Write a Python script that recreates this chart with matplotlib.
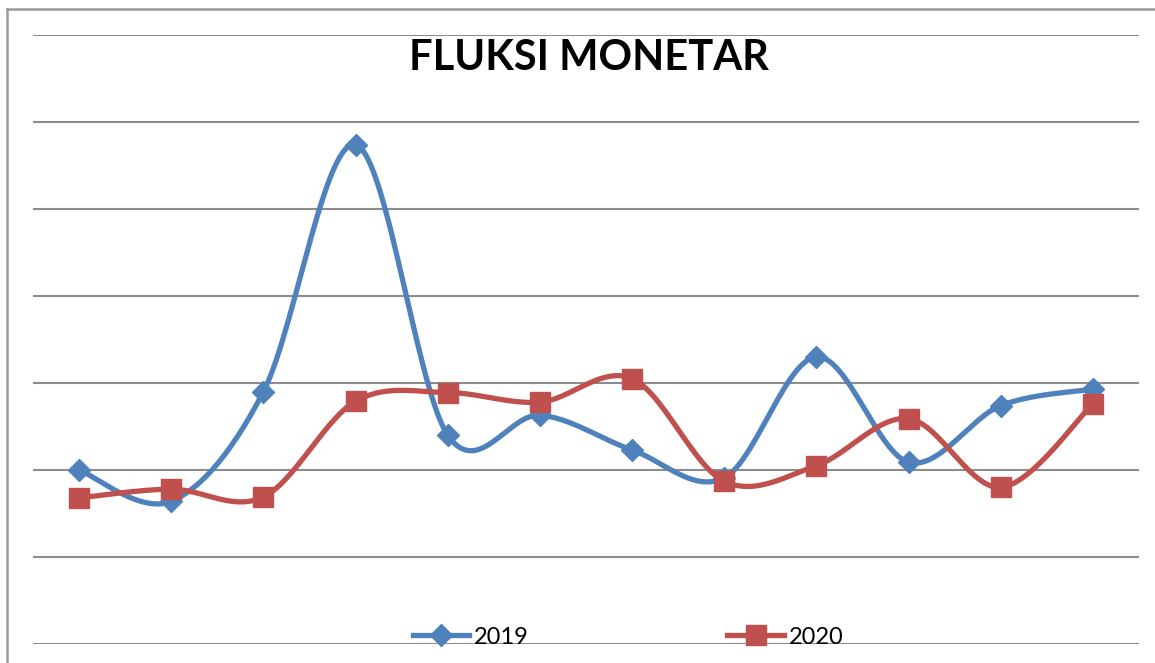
import numpy as np
import matplotlib.pyplot as plt
from matplotlib.lines import Line2D

months = list(range(1, 13))
v2019 = [2.00, 1.64, 2.90, 5.74, 2.40, 2.63, 2.23, 1.91, 3.30, 2.09, 2.74, 2.93]
v2020 = [1.68, 1.78, 1.69, 2.79, 2.89, 2.78, 3.05, 1.87, 2.05, 2.59, 1.80, 2.76]

blue = '#4F81BD'
red = '#C0504D'
grid_c = '#8C8C8C'

plt.rcParams['font.family'] = ['Lato', 'DejaVu Sans']


def smooth(x, y, n=30):
    # excel-like smoothed line: bezier through points (catmull-rom)
    x = np.asarray(x, float)
    y = np.asarray(y, float)
    px = np.r_[x[0], x, x[-1]]
    py = np.r_[y[0], y, y[-1]]
    t = np.linspace(0, 1, n)[:, None]
    xs, ys = [], []
    for i in range(1, len(px) - 2):
        p0 = np.array([px[i], py[i]])
        p3 = np.array([px[i + 1], py[i + 1]])
        c1 = p0 + (np.array([px[i + 1], py[i + 1]]) - np.array([px[i - 1], py[i - 1]])) / 6
        c2 = p3 - (np.array([px[i + 2], py[i + 2]]) - np.array([px[i], py[i]])) / 6
        b = ((1 - t) ** 3) * p0 + 3 * ((1 - t) ** 2) * t * c1 + 3 * (1 - t) * t ** 2 * c2 + t ** 3 * p3
        xs.append(b[:, 0])
        ys.append(b[:, 1])
    return np.concatenate(xs), np.concatenate(ys)


fig = plt.figure(figsize=(11.55, 6.63), dpi=100)
ax = fig.add_axes([33 / 1155, 19 / 663, 1106 / 1155, 609 / 663])

x = np.arange(len(months))
for vals, col, mk, ms in [(v2019, blue, 'D', 11), (v2020, red, 's', 15)]:
    sx, sy = smooth(x, vals)
    ax.plot(sx, sy, color=col, lw=3.8, solid_capstyle='round', zorder=3)
    ax.plot(x, vals, ls='none', marker=mk, ms=ms, color=col, mec=col, zorder=4)

ax.set_xlim(-0.5, len(months) - 0.5)
ax.set_ylim(0, 7)
ax.set_yticks(range(8))
ax.set_xticks([])
ax.set_yticklabels([])
ax.tick_params(left=False)
ax.grid(axis='y', color=grid_c, lw=1.5)
ax.set_axisbelow(True)
for s in ax.spines.values():
    s.set_visible(False)
ax.patch.set_alpha(0)

# chart border (cropped on right/bottom)
fig.add_artist(Line2D([7 / 1155, 1.01], [1 - 9 / 663, 1 - 9 / 663], color='#9A9A9A', lw=1.8))
fig.add_artist(Line2D([7 / 1155, 7 / 1155], [-0.01, 1 - 9 / 663], color='#9A9A9A', lw=1.8))

fig.text(589 / 1155, 1 - 58 / 663, 'FLUKSI MONETAR', ha='center', va='center',
         fontsize=30, fontweight='bold')

handles = [Line2D([], [], color=blue, lw=3.8, marker='D', ms=11),
           Line2D([], [], color=red, lw=3.8, marker='s', ms=15)]
fig.legend(handles, ['2019', '2020'], loc='center', bbox_to_anchor=(628 / 1155, 26 / 663),
           ncol=2, frameon=False, fontsize=17, handlelength=2.4, handletextpad=0.2,
           columnspacing=8.4, borderpad=0)

fig.savefig('out.png', dpi=100)
